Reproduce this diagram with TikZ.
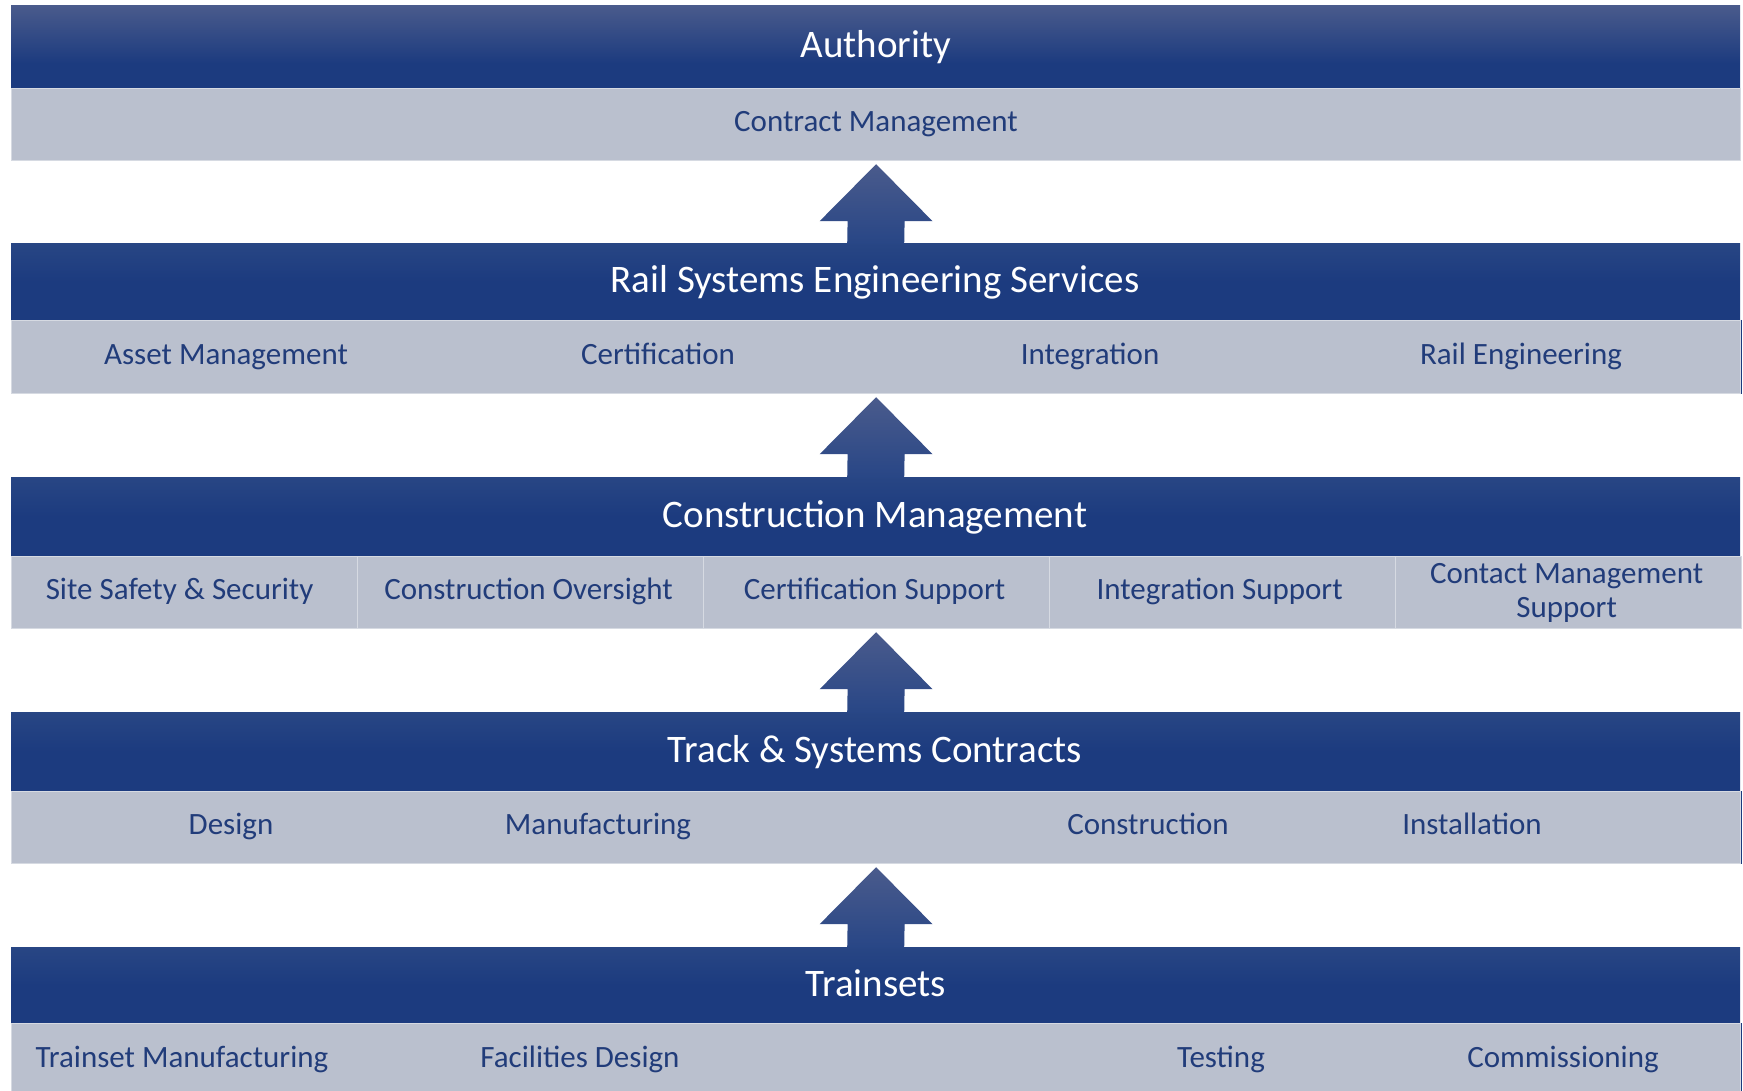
\documentclass[tikz,border=0pt]{standalone}
\usepackage{fontspec}
\setmainfont{Carlito}
\usetikzlibrary{calc}
\definecolor{hdark}{RGB}{28,59,127}
\definecolor{hlight}{RGB}{74,91,140}
\definecolor{hmid}{RGB}{40,70,132}
\definecolor{arrbot}{RGB}{40,70,134}
\definecolor{band}{RGB}{186,192,206}
\definecolor{txt}{RGB}{33,60,122}
\definecolor{divline}{RGB}{214,218,226}
\pgfdeclareverticalshading{hdrA}{100bp}{color(0bp)=(hdark); color(25bp)=(hdark); color(40bp)=(hdark); color(75bp)=(hlight); color(100bp)=(hlight)}
\pgfdeclareverticalshading{hdrB}{100bp}{color(0bp)=(hdark); color(25bp)=(hdark); color(50bp)=(hdark); color(75bp)=(hmid); color(100bp)=(hmid)}
\pgfdeclareverticalshading{arrsh}{100bp}{color(0bp)=(arrbot); color(25bp)=(arrbot); color(75bp)=(hlight); color(100bp)=(hlight)}
\tikzset{
  hdr/.style={rectangle, inner sep=0pt, anchor=north west, minimum width=1729pt, text=white, font=\fontsize{39}{44}\selectfont},
  hdrtop/.style={hdr, shading=hdrA},
  hdrlow/.style={hdr, shading=hdrB},
  hdrtext/.style={text=white, font=\fontsize{39}{44}\selectfont, inner sep=0pt, text height=25pt, text depth=8pt},
  bandbox/.style={rectangle, inner sep=0pt, anchor=north west, minimum width=1729pt, fill=band, draw=divline, line width=1.2pt},
  cellbox/.style={rectangle, inner sep=0pt, anchor=north west, minimum width=346pt, minimum height=72pt, fill=band, draw=divline, line width=1.2pt},
  item/.style={text=txt, font=\fontsize{31}{34}\selectfont, inner sep=0pt, text height=20pt, text depth=6pt},
  item2/.style={text=txt, font=\fontsize{31}{34}\selectfont, inner sep=0pt, align=center},
  edgeline/.style={draw=hdark, line width=1.2pt},
  arrowfill/.style={shading=arrsh}
}
\newcommand\tierarrow[2]{%
  \path[arrowfill] ($(#1.south)+(0,3)$) -- ($(#1.south)+(56.5,60)$) -- ($(#1.south)+(28.5,60)$)
    -- ($(#2.north)+(28.5,1)$) -- ($(#2.north)+(-28.5,1)$) -- ($(#1.south)+(-28.5,60)$)
    -- ($(#1.south)+(-56.5,60)$) -- cycle;}
\begin{document}
\begin{tikzpicture}[x=1pt,y=-1pt]
\useasboundingbox (0,0) rectangle (1743,1091);
\fill[white] (0,0) rectangle (1743,1091);
% tier 1
\node[hdrtop, minimum height=83pt] (h1) at (11,5) {};
\node[hdrtext] (t1) at (876,49) {Authority};
\node[bandbox, minimum height=72pt] (g1) at (11,88) {};
\node[item] (c11) at (876,125) {Contract Management};
% tier 2
\node[hdrlow, minimum height=77pt] (h2) at (11,243) {};
\node[hdrtext] (t2) at (875,284) {Rail Systems Engineering Services};
\node[bandbox, minimum height=73pt] (g2) at (11,320) {};
\draw[edgeline] (g2.north east) -- (g2.south east);
\node[item] (c21) at (226,357) {Asset Management};
\node[item] (c22) at (658,357) {Certification};
\node[item] (c23) at (1090,357) {Integration};
\node[item] (c24) at (1521,357) {Rail Engineering};
% tier 3
\node[hdrlow, minimum height=79pt] (h3) at (11,477) {};
\node[hdrtext] (t3) at (875,519) {Construction Management};
\node[bandbox, minimum height=72pt] (g3) at (11,556) {};
\node[cellbox] (k1) at (11,556) {};
\node[cellbox] (k2) at (357,556) {};
\node[cellbox] (k3) at (703,556) {};
\node[cellbox] (k4) at (1049,556) {};
\node[cellbox] (k5) at (1395,556) {};
\node[item] (c31) at ($(k1.center)+(-5,0)$) {Site Safety \& Security};
\node[item] (c32) at ($(k2.center)+(-2,0)$) {Construction Oversight};
\node[item] (c33) at ($(k3.center)+(-2,0)$) {Certification Support};
\node[item] (c34) at ($(k4.center)+(-3,0)$) {Integration Support};
\node[item2] (c35) at ($(k5.center)+(-2,0)$) {Contact Management\\Support};
% tier 4
\node[hdrlow, minimum height=79pt] (h4) at (11,712) {};
\node[hdrtext] (t4) at (875,754) {Track \& Systems Contracts};
\node[bandbox, minimum height=72pt] (g4) at (11,791) {};
\draw[edgeline] (g4.north east) -- (g4.south east);
\node[item] (c41) at (231,827) {Design};
\node[item] (c42) at (598,827) {Manufacturing};
\node[item] (c43) at (1148,827) {Construction};
\node[item] (c44) at (1472,827) {Installation};
% tier 5
\node[hdrlow, minimum height=76pt] (h5) at (11,947) {};
\node[hdrtext] (t5) at (876,988) {Trainsets};
\node[bandbox, minimum height=70pt] (g5) at (11,1023) {};
\draw[edgeline] (g5.north east) -- (g5.south east);
\node[item] (c51) at (182,1060) {Trainset Manufacturing};
\node[item] (c52) at (580,1060) {Facilities Design};
\node[item] (c53) at (1221,1060) {Testing};
\node[item] (c54) at (1563,1060) {Commissioning};
% arrows
\tierarrow{g1}{h2}
\tierarrow{g2}{h3}
\tierarrow{g3}{h4}
\tierarrow{g4}{h5}
\end{tikzpicture}
\end{document}
